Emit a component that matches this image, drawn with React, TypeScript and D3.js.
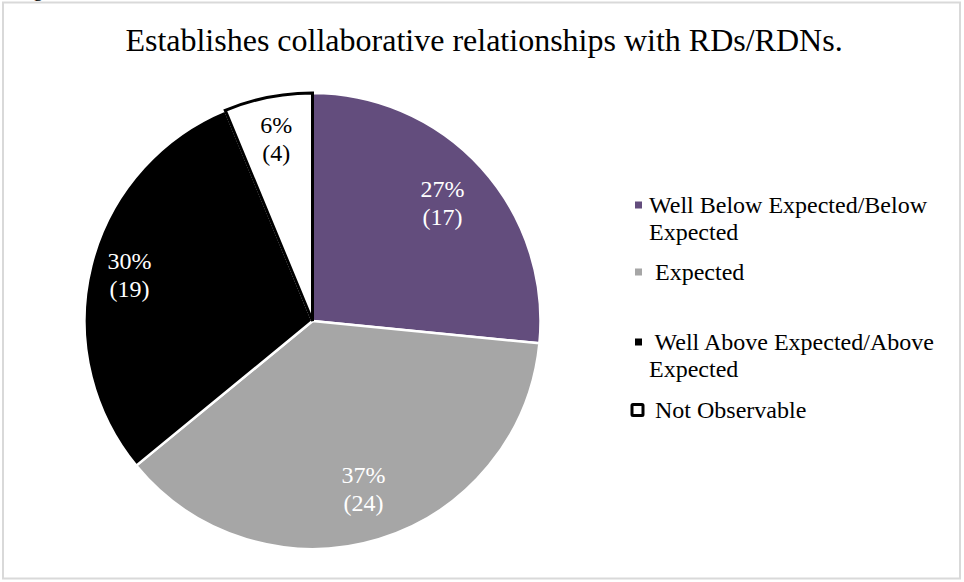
import React from "react";
import * as d3 from "d3";

const categories = [
  "Well Below Expected/Below Expected",
  "Expected",
  "Well Above Expected/Above Expected",
  "Not Observable",
];
const counts = [17, 24, 19, 4];
const percentLabels = ["27%", "37%", "30%", "6%"];
const colors = ["#634d7d", "#a6a6a6", "#000000", "#ffffff"];
const labelColors = ["#ffffff", "#ffffff", "#ffffff", "#000000"];
const labelRadiusFrac = [0.77, 0.772, 0.828, 0.815];
const legendLines = [
  ["Well Below Expected/Below", "Expected"],
  [" Expected"],
  [" Well Above Expected/Above", "Expected"],
  [" Not Observable"],
];
const title = "Establishes collaborative relationships with RDs/RDNs.";

const W = 964;
const H = 582;
const cx = 312.5;
const cy = 321;
const R = 228;

export default function App() {
  const pie = d3
    .pie<number>()
    .sort(null)
    .value((d) => d);
  const arcs = pie(counts);
  const arcGen = d3.arc<d3.PieArcDatum<number>>().innerRadius(0).outerRadius(R);

  const legendY = [205, 272, 342, 410];
  const lineH = 27;

  return (
    <svg
      width={W}
      height={H}
      style={{ position: "absolute", left: 0, top: 0 }}
      fontFamily="'Liberation Serif', 'Times New Roman', serif"
    >
      <rect x={0} y={0} width={W} height={H} fill="#fff" />
      <text x={33} y={-4} fontSize={20} fill="#000">g</text>
      <rect
        x={3}
        y={2.5}
        width={957}
        height={576}
        fill="#fff"
        stroke="#d9d9d9"
        strokeWidth={2}
      />
      <text x={484} y={51} textAnchor="middle" fontSize={32} fill="#000">
        {title}
      </text>
      <g transform={`translate(${cx},${cy})`}>
        {arcs.map((a, i) => (
          <path
            key={"s" + i}
            d={arcGen(a) || ""}
            fill={colors[i]}
            stroke="#ffffff"
            strokeWidth={2.5}
            strokeLinejoin="round"
          />
        ))}
        {arcs.map((a, i) =>
          colors[i] === "#ffffff" ? (
            <path
              key={"o" + i}
              d={arcGen(a) || ""}
              fill="none"
              stroke="#000"
              strokeWidth={3}
              strokeLinejoin="miter"
            />
          ) : null
        )}
        {arcs.map((a, i) => {
          const r = R * labelRadiusFrac[i];
          const lab = d3.arc<d3.PieArcDatum<number>>().innerRadius(r).outerRadius(r);
          const [x, y] = lab.centroid(a);
          return (
            <g key={"l" + i} fill={labelColors[i]} fontSize={24} textAnchor="middle">
              <text x={x} y={y - 6}>{percentLabels[i]}</text>
              <text x={x} y={y + 22}>{`(${counts[i]})`}</text>
            </g>
          );
        })}
      </g>
      <g>
        {categories.map((c, i) => (
          <g key={"lg" + i}>
            {i === 3 ? (
              <rect
                x={632}
                y={legendY[i] - 5.5}
                width={11}
                height={11}
                fill="#fff"
                stroke="#000"
                strokeWidth={3}
                rx={1}
              />
            ) : (
              <rect
                x={635}
                y={legendY[i] - 3.5}
                width={7}
                height={7}
                fill={colors[i]}
              />
            )}
            {legendLines[i].map((t, j) => (
              <text
                key={j}
                x={649}
                y={legendY[i] + 8 + j * lineH}
                fontSize={24}
                fill="#000"
                style={{ whiteSpace: "pre" }}
              >
                {t}
              </text>
            ))}
          </g>
        ))}
      </g>
    </svg>
  );
}
